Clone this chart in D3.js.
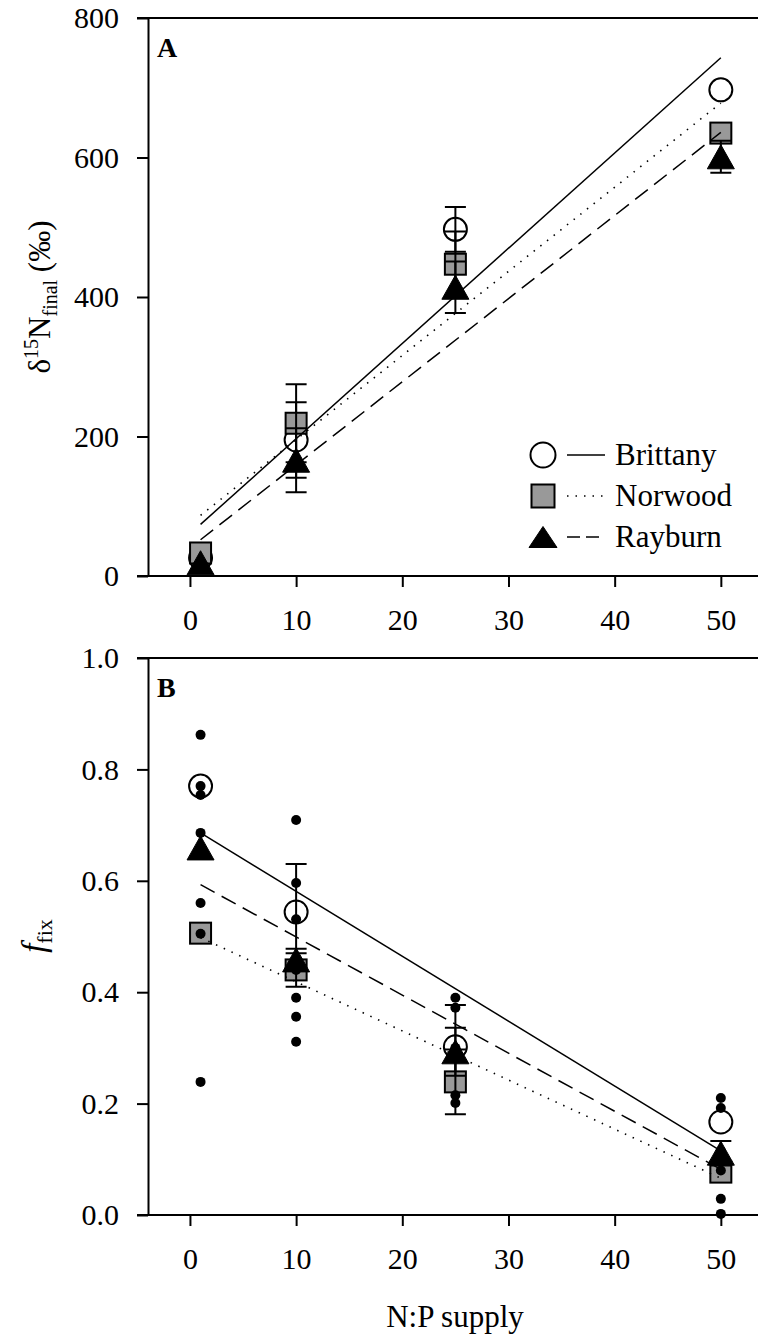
<!DOCTYPE html>
<html>
<head>
<meta charset="utf-8">
<script src="https://cdn.jsdelivr.net/npm/d3@7"></script>
<style>
  body { margin: 0; background: #fff; }
  svg text { font-family: 'Liberation Serif', 'Times New Roman', serif; fill: #000; }
</style>
</head>
<body>
<div id="chart"></div>
<script>
// N:P supply levels
const supply = [1, 10, 25, 50];
const xTicks = [0, 10, 20, 30, 40, 50];
const populations = ['Brittany', 'Norwood', 'Rayburn'];

// panel A: d15N final (per mil), means and SE (0 = bar hidden by symbol)
const brittanyD15N = [26, 195, 497, 697];
const brittanyD15NSe = [0, 54, 32, 0];
const norwoodD15N = [33, 219, 447, 635];
const norwoodD15NSe = [0, 56, 47, 0];
const rayburnD15N = [19, 166, 414, 601];
const rayburnD15NSe = [0, 46, 37, 23];
// regression lines, value at supply 1 and 50
const brittanyD15NFit = [74, 743];
const norwoodD15NFit = [87, 678];
const rayburnD15NFit = [52, 636];
const d15nTicks = [0, 200, 400, 600, 800];

// panel B: f fix, means and SE
const brittanyFfix = [0.770, 0.544, 0.302, 0.167];
const brittanyFfixSe = [0, 0.086, 0.075, 0];
const norwoodFfix = [0.506, 0.440, 0.239, 0.077];
const norwoodFfixSe = [0, 0.03, 0.058, 0];
const rayburnFfix = [0.659, 0.458, 0.293, 0.111];
const rayburnFfixSe = [0, 0.02, 0.043, 0.022];
const brittanyFfixFit = [0.686, 0.115];
const norwoodFfixFit = [0.498, 0.066];
const rayburnFfixFit = [0.593, 0.082];
const ffixTicks = [0, 0.2, 0.4, 0.6, 0.8, 1.0];

// individual replicates in panel B
const reps1 = [0.862, 0.770, 0.754, 0.686, 0.560, 0.505, 0.239];
const reps10 = [0.709, 0.596, 0.531, 0.458, 0.440, 0.390, 0.356, 0.311];
const reps25 = [0.390, 0.372, 0.300, 0.285, 0.215, 0.201];
const reps50 = [0.210, 0.192, 0.115, 0.080, 0.029, 0.002];

const width = 758, height = 1342;
const axisLeftX = 148, axisRightX = 758;
const serif = "'Liberation Serif', 'Times New Roman', serif";

const svg = d3.select('#chart').append('svg')
    .attr('width', width)
    .attr('height', height)
    .style('font-family', serif);

const x = d3.scaleLinear()
    .domain([-3.95, 53.5])
    .range([axisLeftX, axisRightX]);

const styles = {
  Brittany: { dash: null, shape: 'circle' },
  Norwood: { dash: '1.5,7', shape: 'square' },
  Rayburn: { dash: '16,8', shape: 'triangle' }
};

// draw one marker at (cx, cy)
function marker(g, shape, cx, cy, s) {
  if (shape === 'circle') {
    g.append('circle')
        .attr('cx', cx).attr('cy', cy).attr('r', s.r)
        .attr('fill', '#fff').attr('stroke', '#000').attr('stroke-width', 2);
  } else if (shape === 'square') {
    g.append('rect')
        .attr('x', cx - s.sq / 2).attr('y', cy - s.sq / 2)
        .attr('width', s.sq).attr('height', s.sq)
        .attr('fill', '#999').attr('stroke', '#000').attr('stroke-width', 2);
  } else {
    const w = s.tw, h = s.th;
    g.append('path')
        .attr('d', 'M' + cx + ',' + (cy - h / 2) + 'L' + (cx + w / 2) + ',' + (cy + h / 2) +
          'L' + (cx - w / 2) + ',' + (cy + h / 2) + 'Z')
        .attr('fill', '#000').attr('stroke', '#000').attr('stroke-width', 1);
  }
}

function panel(cfg) {
  const y = d3.scaleLinear().domain(cfg.domain).range([cfg.bottom, cfg.top]);
  const g = svg.append('g');

  // frame top line
  g.append('line')
      .attr('x1', axisLeftX - 11).attr('x2', axisRightX)
      .attr('y1', cfg.top).attr('y2', cfg.top)
      .attr('stroke', '#000').attr('stroke-width', 2);

  const yAxis = g.append('g')
      .attr('transform', 'translate(' + axisLeftX + ',0)')
      .call(d3.axisLeft(y).tickValues(cfg.ticks).tickFormat(cfg.format)
        .tickSize(11).tickSizeOuter(0).tickPadding(18));

  const xAxis = g.append('g')
      .attr('transform', 'translate(0,' + cfg.bottom + ')')
      .call(d3.axisBottom(x).tickValues(xTicks).tickFormat(d3.format('d'))
        .tickSize(11).tickSizeOuter(0).tickPadding(22));

  [yAxis, xAxis].forEach(a => {
    a.attr('font-family', serif);
    a.selectAll('path, line').attr('stroke', '#000').attr('stroke-width', 2);
    a.selectAll('text').style('font-size', '30px').style('font-family', serif);
  });
  xAxis.select('.domain').attr('d', 'M' + (axisLeftX - 11) + ',0H' + axisRightX);

  // panel letter
  g.append('text')
      .attr('x', 157).attr('y', cfg.top + 39)
      .style('font-size', '28px').style('font-weight', 'bold')
      .text(cfg.letter);

  // means with markers and error bars
  const size = { r: 11.5, sq: 21, tw: 27, th: 24 };
  populations.forEach((p, i) => {
    const sg = g.append('g');
    cfg.means[i].forEach((m, j) => {
      const cx = x(supply[j]), cy = y(m);
      marker(sg, styles[p].shape, cx, cy, size);
      const se = cfg.se[i][j];
      if (!se) return;
      const y0 = y(m - se), y1 = y(m + se);
      sg.append('path')
          .attr('d', 'M' + cx + ',' + y0 + 'V' + y1 +
            'M' + (cx - 10.5) + ',' + y0 + 'H' + (cx + 10.5) +
            'M' + (cx - 10.5) + ',' + y1 + 'H' + (cx + 10.5))
          .attr('stroke', '#000').attr('stroke-width', 2).attr('fill', 'none');
    });
  });

  // replicate points
  if (cfg.reps) {
    cfg.reps.forEach((vals, j) => {
      g.selectAll(null)
        .data(vals)
        .enter().append('circle')
          .attr('cx', x(supply[j]))
          .attr('cy', d => y(d))
          .attr('r', 5)
          .attr('fill', '#000');
    });
  }

  // regression lines
  const line = d3.line().x(d => x(d[0])).y(d => y(d[1]));
  populations.forEach((p, i) => {
    const f = cfg.fits[i];
    g.append('path')
        .datum([[supply[0], f[0]], [supply[supply.length - 1], f[1]]])
        .attr('d', line)
        .attr('fill', 'none')
        .attr('stroke', '#000')
        .attr('stroke-width', p === 'Norwood' ? 1.6 : 1.5)
        .attr('stroke-dasharray', styles[p].dash);
  });

  return { g, y };
}

panel({
  letter: 'A', top: 18, bottom: 576, domain: [0, 800],
  ticks: d15nTicks, format: d3.format('d'),
  means: [brittanyD15N, norwoodD15N, rayburnD15N],
  se: [brittanyD15NSe, norwoodD15NSe, rayburnD15NSe],
  fits: [brittanyD15NFit, norwoodD15NFit, rayburnD15NFit]
});

panel({
  letter: 'B', top: 658, bottom: 1215, domain: [0, 1],
  ticks: ffixTicks, format: d3.format('.1f'),
  means: [brittanyFfix, norwoodFfix, rayburnFfix],
  se: [brittanyFfixSe, norwoodFfixSe, rayburnFfixSe],
  fits: [brittanyFfixFit, norwoodFfixFit, rayburnFfixFit],
  reps: [reps1, reps10, reps25, reps50]
});

// legend in panel A
const legend = svg.append('g');
const legendSize = { r: 12.5, sq: 23, tw: 28, th: 21 };
populations.forEach((p, i) => {
  const ly = 455 + i * 41;
  marker(legend, styles[p].shape, 543, ly, legendSize);
  legend.append('line')
      .attr('x1', 567).attr('x2', 605)
      .attr('y1', ly).attr('y2', ly)
      .attr('stroke', '#000').attr('stroke-width', 1.6)
      .attr('stroke-dasharray', p === 'Rayburn' ? '13,6' : styles[p].dash);
  legend.append('text')
      .attr('x', 615).attr('y', ly + 10)
      .style('font-size', '31px')
      .text(p);
});

// y axis titles
const ta = svg.append('text')
    .attr('transform', 'translate(50,297) rotate(-90)')
    .attr('text-anchor', 'middle')
    .style('font-size', '31px');
ta.append('tspan').text('δ');
ta.append('tspan').attr('dy', -12).style('font-size', '20px').text('15');
ta.append('tspan').attr('dy', 12).text('N');
ta.append('tspan').attr('dy', 7).style('font-size', '20px').text('final');
ta.append('tspan').attr('dy', -7).text(' (‰)');

const tb = svg.append('text')
    .attr('transform', 'translate(45,936) rotate(-90)')
    .attr('text-anchor', 'middle')
    .style('font-size', '33px');
tb.append('tspan').style('font-style', 'italic').text('f');
tb.append('tspan').attr('dy', 7).style('font-size', '22px').text('fix');

// x axis title
svg.append('text')
    .attr('x', 455).attr('y', 1327)
    .attr('text-anchor', 'middle')
    .style('font-size', '31px')
    .text('N:P supply');
</script>
</body>
</html>
